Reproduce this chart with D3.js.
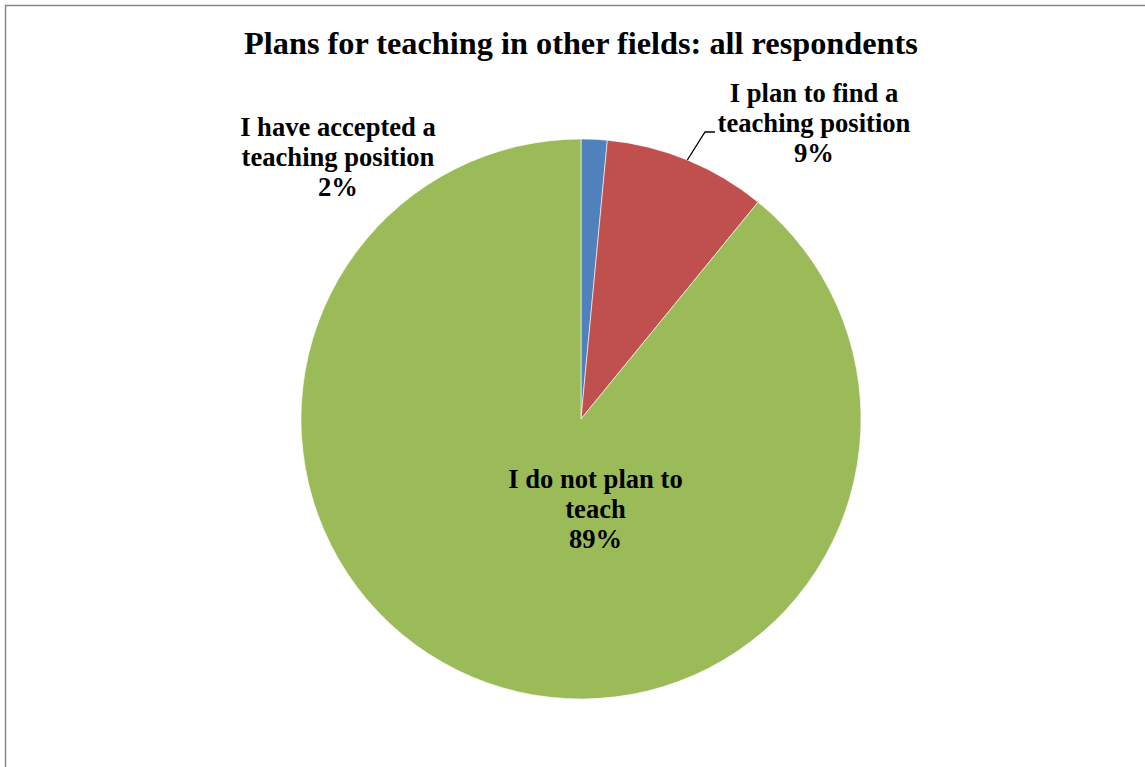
<!DOCTYPE html>
<html>
<head>
<meta charset="utf-8">
<script src="https://d3js.org/d3.v7.min.js"></script>
<style>
  html, body { margin: 0; padding: 0; background: #fff; }
  svg { display: block; }
  text { font-family: "Liberation Serif", "Times New Roman", serif; font-weight: bold; fill: #000; }
</style>
</head>
<body>
<script>
const titleText = "Plans for teaching in other fields: all respondents";
const categories = ["I have accepted a teaching position", "I plan to find a teaching position", "I do not plan to teach"];
const values = [1.5, 9.4, 89.1];
const percentLabels = ["2%", "9%", "89%"];
const labelLines = [
  ["I have accepted a", "teaching position", "2%"],
  ["I plan to find a", "teaching position", "9%"],
  ["I do not plan to", "teach", "89%"]
];
const colors = ["#4F81BD", "#C0504D", "#9BBB59"];

const W = 1145, H = 767;
const svg = d3.select("body").append("svg").attr("width", W).attr("height", H);

// outer frame
svg.append("rect").attr("x", 5.5).attr("y", 5.5).attr("width", 1200).attr("height", 800)
  .attr("fill", "none").attr("stroke", "#878787").attr("stroke-width", 1.5);

svg.append("text").attr("x", 581).attr("y", 54).attr("text-anchor", "middle")
  .style("font-size", "32.3px").text(titleText);

const cx = 581, cy = 419, r = 280;
const data = categories.map((c, i) => ({ c, v: values[i], i }));
const pie = d3.pie().value(d => d.v).sort(null);
const arc = d3.arc().innerRadius(0).outerRadius(r);
const arcs = pie(data);

const g = svg.append("g").attr("transform", `translate(${cx},${cy})`);
g.selectAll("path").data(arcs).join("path")
  .attr("d", arc).attr("fill", d => colors[d.data.i])
  .attr("stroke", "#fff").attr("stroke-width", 0.6);

// label positions (centre x, first baseline y)
const labelPos = [[338, 136], [814, 102], [595.5, 488]];
labelLines.forEach((lines, i) => {
  const t = svg.append("text").attr("text-anchor", "middle").style("font-size", "26.6px");
  lines.forEach((ln, j) => {
    t.append("tspan").attr("x", labelPos[i][0]).attr("y", labelPos[i][1] + j * 30).text(ln);
  });
});

// leader line for red slice, from the slice's mid-angle on the rim
const red = arcs[1];
const a = (red.startAngle + red.endAngle) / 2;
const px = cx + r * Math.sin(a), py = cy - r * Math.cos(a);
svg.append("polyline")
  .attr("points", `${px},${py} 705,132 715,132`)
  .attr("fill", "none").attr("stroke", "#000").attr("stroke-width", 1.3);
</script>
</body>
</html>
